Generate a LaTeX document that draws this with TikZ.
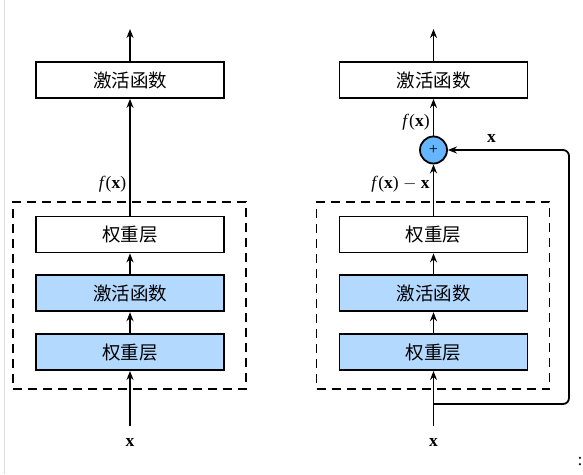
\documentclass[tikz,border=0pt]{standalone}
\usepackage{fontspec}
\setmainfont{Liberation Serif}
\newfontfamily\cjk{Noto Sans CJK SC}
\usetikzlibrary{arrows.meta,positioning}
\definecolor{layerblue}{HTML}{B3D9FF}
\definecolor{sumblue}{HTML}{66B5FF}
\definecolor{edgegray}{HTML}{DDDDDD}
\newcommand{\fx}{\textit{f}(\textbf{x})}

\begin{document}
\begin{tikzpicture}[
    x=1pt, y=-1pt,
    >={Stealth[length=9pt, width=7pt]},
    line width=1.8pt,
    layerbox/.style={draw, fill=#1, minimum width=188pt, minimum height=36pt,
        inner sep=0pt, font=\cjk\fontsize{18.5}{22}\selectfont},
    layerbox/.default=white,
    dashframe/.style={draw, dashed, dash pattern=on 9pt off 6pt,
        minimum width=233pt, minimum height=187pt, inner sep=0pt},
    sumnode/.style={circle, draw, fill=sumblue, minimum size=27pt, inner sep=0pt,
        font=\fontsize{16}{18}\selectfont},
    lbl/.style={font=\fontsize{17.5}{20}\selectfont, inner sep=1pt},
]
\useasboundingbox (0,0) rectangle (583,474);
\draw[edgegray, line width=1pt] (4.5,0) -- (4.5,474);

% =====================================================
% Left: plain block
% =====================================================
\node[dashframe] (lframe) at (129.5, 295.5) {};
\node[layerbox] (lact) at (130, 80) {激活函数};
\node[layerbox] (lw2) at (130, 234.5) {权重层};
\node[layerbox=layerblue, below=21pt of lw2] (lact1) {激活函数};
\node[layerbox=layerblue, below=21pt of lact1] (lw1) {权重层};
\node[lbl] (lin) at (130, 442) {\textbf{x}};
\coordinate (lout) at (130, 29);

\draw[->] ([yshift=10pt]lin.north) -- (lw1.south);
\draw[->] (lw1.north) -- (lact1.south);
\draw[->] (lact1.north) -- (lw2.south);
\draw[->] (lw2.north) -- (lact.south)
    node[lbl, pos=0.27, left=2pt] {\fx};
\draw[->] (lact.north) -- (lout);

% =====================================================
% Right: residual block
% =====================================================
\node[dashframe] (rframe) at (433, 295.5) {};
\node[layerbox] (ract) at (433.5, 80) {激活函数};
\node[layerbox] (rw2) at (433.5, 234.5) {权重层};
\node[layerbox=layerblue, below=21pt of rw2] (ract1) {激活函数};
\node[layerbox=layerblue, below=21pt of ract1] (rw1) {权重层};
\node[sumnode] (rsum) at (433.5, 150) {+};
\node[lbl] (rin) at (433.5, 442) {\textbf{x}};
\coordinate (rout) at (433.5, 29);
\coordinate (rsplit) at (433.5, 404);
\coordinate (rturn) at (569, 404);

\draw[->] ([yshift=10pt]rin.north) -- (rw1.south);
\draw[->] (rw1.north) -- (ract1.south);
\draw[->] (ract1.north) -- (rw2.south);
\draw[->] (rw2.north) -- (rsum.south)
    node[lbl, pos=0.62, left=2pt] {\fx\ $-$ \textbf{x}};
\draw[->] (rsum.north) -- (ract.south)
    node[lbl, pos=0.37, left=2pt] {\fx};
\draw[->] (ract.north) -- (rout);

% skip connection
\draw[->, rounded corners=6pt] (rsplit) -- (rturn) |- (rsum.east)
    node[lbl, pos=0.82, above=6pt] {\textbf{x}};

\node[lbl] (colon) at (580, 462) {:};
\end{tikzpicture}
\end{document}
